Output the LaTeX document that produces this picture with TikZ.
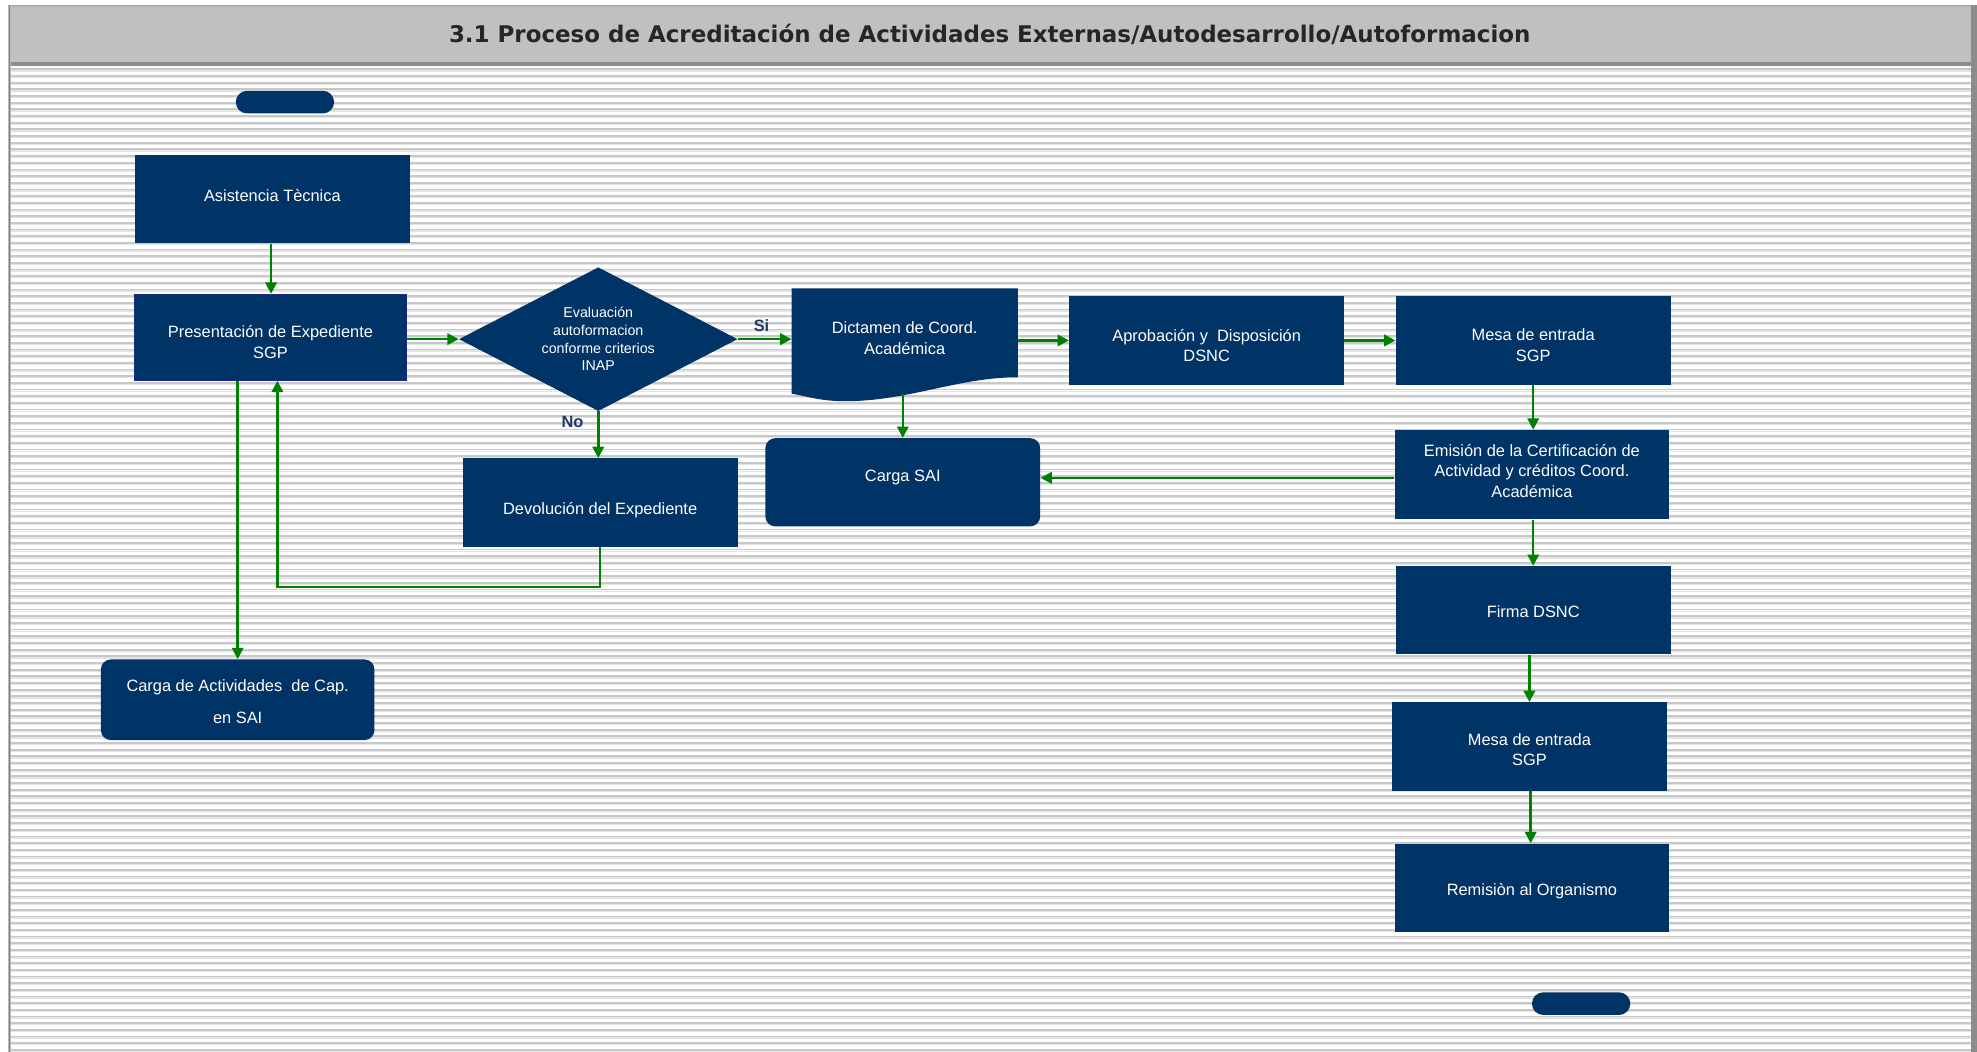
\documentclass[tikz,border=0pt]{standalone}
\usepackage{fontspec}
\setmainfont{Liberation Sans}
\newfontfamily\titlefont{DejaVu Sans}
\usetikzlibrary{arrows.meta,calc,shapes.geometric}
\definecolor{boxnavy}{HTML}{003366}
\definecolor{edgenavy}{HTML}{1A2A8A}
\definecolor{flowgreen}{HTML}{008000}
\definecolor{labelnavy}{HTML}{1F3864}
\definecolor{barfill}{HTML}{C0C0C0}
\definecolor{bardark}{HTML}{8C8C8C}
\definecolor{stripedark}{HTML}{C8C8C8}
\definecolor{stripelight}{HTML}{E4E4E4}
\pgfdeclarelayer{bg}
\pgfsetlayers{bg,main}
% caption of a step, placed over its box with a small vertical offset
\newcommand\steptext[3]{\node[boxtext] (#1-t) at ($(#1)+(0,#2)$) {#3};}
\begin{document}
\begin{tikzpicture}[x=1pt,y=-1pt,
  box/.style={fill=boxnavy, minimum width=218pt, minimum height=70pt, inner sep=0pt},
  boxtext/.style={text=white, inner sep=0pt, align=center, font=\fontsize{13}{16.5}\selectfont},
  roundbox/.style={box, rounded corners=8pt},
  term/.style={fill=boxnavy, minimum width=78pt, minimum height=18pt, inner sep=0pt,
    rounded corners=9pt},
  decision/.style={diamond, fill=boxnavy, text=white, shape aspect=2, minimum width=221pt,
    minimum height=114pt, inner sep=0pt, align=center, font=\fontsize{11.3}{14}\selectfont},
  flow/.style={draw=flowgreen, line width=2pt, -{Triangle[length=9pt,width=9pt]}},
  answer/.style={text=labelnavy, font=\fontsize{13}{15}\selectfont\bfseries, inner sep=0pt},
  stripe/.style={draw=stripedark, line width=1.4pt},
  stripe2/.style={draw=stripelight, line width=1pt}]

\useasboundingbox (0,0) rectangle (1568,834);

% page frame, title bar and ruled background
\begin{pgfonlayer}{bg}
  \fill[white] (0,0) rectangle (1568,834);
  \foreach \i in {0,...,147} {
    \pgfmathsetmacro\yy{55+5.29*\i}
    \draw[stripe] (9,\yy) -- (1563,\yy);
    \draw[stripe2] (9,\yy+1.3) -- (1563,\yy+1.3);
  }
  \fill[barfill] (7,4) rectangle (1564,49);
  \fill[bardark!70] (7,4) rectangle (1564,5.3);
  \fill[bardark] (7,49) rectangle (1564,52.5);
  \fill[bardark!60] (6,4) rectangle (9,834);
  \fill[bardark!110] (7.2,4) rectangle (8.2,834);
  \fill[bardark] (1563.5,4) rectangle (1568,834);
\end{pgfonlayer}

\node[font=\titlefont\bfseries\fontsize{18.2}{20}\selectfont, text=black!85, inner sep=0pt] (title) at (785,27)
  {3.1 Proceso de Acreditación de Actividades Externas/Autodesarrollo/Autoformacion};

% terminators
\node[term] (start) at (226,81) {};
\node[term] (stop) at (1254,796) {};

% process steps
\node[box] (asis) at (216,158) {};
\steptext{asis}{-3}{Asistencia Tècnica}
\node[box, draw=edgenavy, line width=1pt, minimum width=216pt, minimum height=68pt] (pres) at (214.5,267.5) {};
\steptext{pres}{3.5}{Presentación de Expediente\\SGP}
\node[decision] (dia) at (474.5,269) {Evaluación\\autoformacion\\conforme criterios\\INAP};
\node[box] (dev) at (476,398.5) {};
\steptext{dev}{6.5}{Devolución del Expediente}
\node[roundbox, minimum width=217pt, minimum height=64pt] (cact) at (188.5,555) {};
\node[boxtext, font=\fontsize{13}{25}\selectfont] (cact-t) at ($(cact)+(0,1.5)$) {Carga de Actividades~ de Cap.\\en SAI};

% document-shaped step (outline filled on the background layer)
\node[minimum width=179pt, minimum height=83pt, inner sep=0pt] (dict) at (717.5,270.5) {};
\steptext{dict}{-2}{Dictamen de Coord.\\Académica}
\begin{pgfonlayer}{bg}
  \fill[boxnavy] (dict.north west) -- (dict.north east) -- ($(dict.south east)+(0,-13)$)
    .. controls ($(dict.south east)+(-47,-13)$) and ($(dict.south west)+(92,6)$) .. ($(dict.south west)+(43,6)$)
    .. controls ($(dict.south west)+(22,6)$) and ($(dict.south west)+(12,2)$) .. (dict.south west) -- cycle;
\end{pgfonlayer}

\node[box] (apro) at (957,270) {};
\steptext{apro}{4}{Aprobación y~ Disposición\\DSNC}
\node[box] (mesa) at (1216,270) {};
\steptext{mesa}{4}{Mesa de entrada\\SGP}
\node[roundbox] (sai) at (716,382.5) {};
\steptext{sai}{-3.5}{Carga SAI}
\node[box, minimum height=71pt] (emis) at (1215,376.5) {};
\steptext{emis}{-3}{Emisión de la Certificación de\\Actividad y créditos Coord.\\Académica}
\node[box] (firma) at (1216,484) {};
\steptext{firma}{1}{Firma DSNC}
\node[box] (mesab) at (1213,592) {};
\steptext{mesab}{2.5}{Mesa de entrada\\SGP}
\node[box] (remi) at (1215,704) {};
\steptext{remi}{3}{Remisiòn al Organismo}

% connectors
\coordinate (asis-out) at ($(asis.south)+(-1,0)$);
\draw[flow] (asis-out) -- (asis-out |- pres.north);
\draw[flow] (dia.west -| pres.east) -- (dia.west);
\draw[flow] (dia.east) -- (dia.east -| dict.west);
\node[answer] (si) at (604,258) {Si};
\draw[flow] (dia.south) -- (dia.south |- dev.north);
\node[answer] (no) at (454,335) {No};
\draw[flow] (dev.south) -- ++(0,32) -| ($(pres.south)+(5.5,0)$);
\draw[flow] ($(pres.south)+(-26,0)$) -- (cact.north);
\draw[flow] ($(dict.south)+(-1.5,0)$) -- (sai.north);
\draw[flow] (dict.east |- apro.west) -- (apro.west);
\draw[flow] (apro.east) -- (mesa.west);
\draw[flow] (mesa.south) -- (mesa.south |- emis.north);
\draw[flow] ($(emis.west)+(0,2.5)$) -- ($(sai.east)+(0,-3.5)$);
\coordinate (emis-out) at ($(emis.south)+(1,0)$);
\draw[flow] (emis-out) -- (emis-out |- firma.north);
\coordinate (firma-out) at ($(firma.south)+(-3,0)$);
\draw[flow] (firma-out) -- (firma-out |- mesab.north);
\coordinate (mesab-out) at ($(mesab.south)+(1,0)$);
\draw[flow] (mesab-out) -- (mesab-out |- remi.north);

\end{tikzpicture}
\end{document}
